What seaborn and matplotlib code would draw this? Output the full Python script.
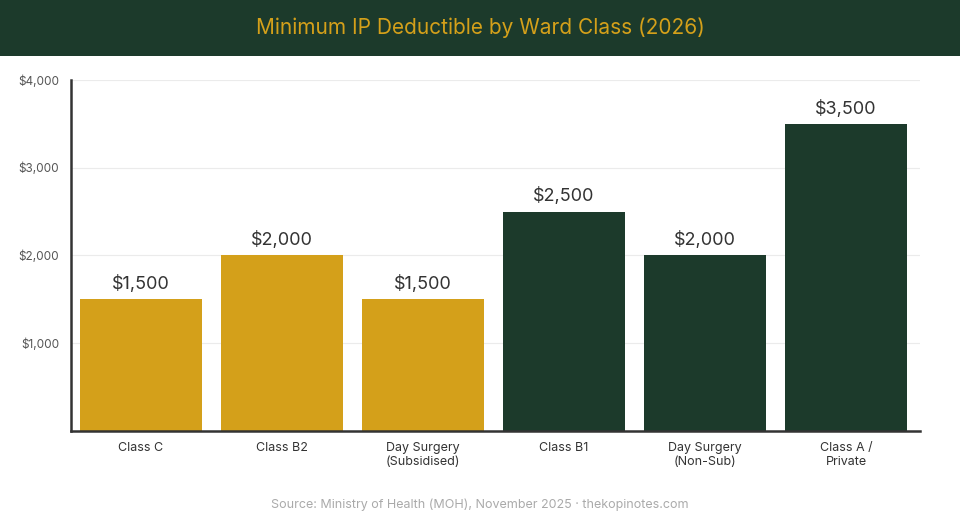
import matplotlib
matplotlib.use("Agg")
import matplotlib.pyplot as plt
import matplotlib.patches as mpatches
import seaborn as sns
import pandas as pd

# data
categories = ["Class C", "Class B2", "Day Surgery\n(Subsidised)", "Class B1", "Day Surgery\n(Non-Sub)", "Class A /\nPrivate"]
deductibles = [1500, 2000, 1500, 2500, 2000, 3500]
groups = ["Subsidised", "Subsidised", "Subsidised", "Non-subsidised", "Non-subsidised", "Non-subsidised"]
y_ticks = [1000, 2000, 3000, 4000]

GOLD = "#d4a01a"
GREEN = "#1c3a2b"

df = pd.DataFrame({"Ward": categories, "Deductible": deductibles, "Group": groups})

sns.set_theme(style="white")
plt.rcParams["font.family"] = ["Inter", "DejaVu Sans"]

fig = plt.figure(figsize=(9.6, 5.2), dpi=100)

# title bar
fig.patches.append(mpatches.Rectangle((0, 1 - 56 / 520), 1, 56 / 520, transform=fig.transFigure,
                                      facecolor=GREEN, edgecolor="none", zorder=0))
fig.text(0.5, 1 - 28 / 520, "Minimum IP Deductible by Ward Class (2026)", ha="center", va="center",
         color=GOLD, fontsize=15)

ax = fig.add_axes([70.5 / 960, 1 - 431 / 520, 849.5 / 960, 351 / 520])
sns.barplot(data=df, x="Ward", y="Deductible", hue="Group", palette={"Subsidised": GOLD, "Non-subsidised": GREEN},
            dodge=False, width=0.865, legend=False, ax=ax, saturation=1, linewidth=0)

for i, v in enumerate(deductibles):
    ax.text(i, v + 70, f"${v:,}", ha="center", va="bottom", fontsize=13, color="#333333")

ax.set_ylim(0, 4000)
ax.set_xlim(-0.5, 5.525)
ax.set_yticks(y_ticks)
ax.set_yticklabels([f"${t:,}" for t in y_ticks], fontsize=8.5, color="#555555")
ax.tick_params(axis="x", labelsize=9, colors="#333333", length=0, pad=8)
ax.tick_params(axis="y", length=0, pad=8)
ax.set_xlabel("")
ax.set_ylabel("")
ax.grid(axis="y", color="#ebebeb", linewidth=0.8)
ax.set_axisbelow(True)
for s in ["top", "right"]:
    ax.spines[s].set_visible(False)
for s in ["left", "bottom"]:
    ax.spines[s].set_color("#333333")
    ax.spines[s].set_linewidth(1.8)

fig.text(0.5, 1 - 505 / 520, "Source: Ministry of Health (MOH), November 2025 \u00b7 thekopinotes.com",
         ha="center", va="center", fontsize=9, color="#aaaaaa")

fig.savefig("out.png", dpi=100)
